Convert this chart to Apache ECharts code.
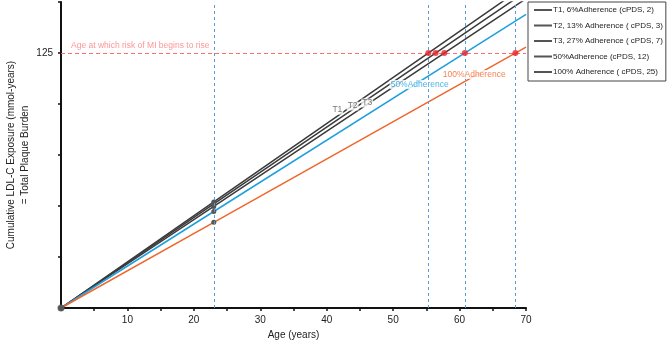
<!DOCTYPE html>
<html>
<head>
<meta charset="utf-8">
<script src="https://cdn.jsdelivr.net/npm/echarts@6/dist/echarts.min.js"></script>
<style>
  html, body { margin: 0; padding: 0; background: #fff; }
  #chart { width: 669px; height: 343px; }
</style>
</head>
<body>
<div id="chart"></div>
<script>
const seriesNames = [
    'T1, 6%Adherence (cPDS, 2)',
    'T2, 13% Adherence ( cPDS, 3)',
    'T3, 27% Adherence ( cPDS, 7)',
    '50%Adherence (cPDS, 12)',
    '100% Adherence ( cPDS, 25)'
];
const seriesColors = ['#3a3a3a', '#3a3a3a', '#3a3a3a', '#1ea0dc', '#f0652b'];

// cumulative exposure read at age 0, 23 and 70
const ages = [0, 23, 70];
const t1Values = [0, 52.0, 158.2];
const t2Values = [0, 51.0, 155.1];
const t3Values = [0, 49.8, 151.6];
const halfValues = [0, 47.3, 143.9];
const fullValues = [0, 42.0, 127.9];
const allValues = [t1Values, t2Values, t3Values, halfValues, fullValues];

// age where each line reaches the threshold
const threshold = 125;
const thresholdAges = [55.3, 56.4, 57.7, 60.8, 68.4];
const guideAges = [23, 55.3, 60.8, 68.4];

// in-plot labels [age, value, text, color]
const lineLabels = [
    [41.6, 97, 'T1', '#555'],
    [43.9, 99, 'T2', '#555'],
    [46.1, 100.5, 'T3', '#555'],
    [54.0, 109.5, '50%Adherence', '#1ea0dc'],
    [62.2, 114.5, '100%Adherence', '#f0652b']
];

const font = "'Liberation Sans', Arial, sans-serif";

const lineSeries = seriesNames.map(function (name, i) {
    const data = ages.map(function (a, j) {
        const item = { value: [a, allValues[i][j]] };
        if (j === 2) {
            item.symbol = 'none';
        }
        return item;
    });
    return {
        name: name,
        type: 'line',
        data: data,
        symbol: 'circle',
        symbolSize: 5,
        showSymbol: true,
        color: seriesColors[i],
        itemStyle: { color: '#555' },
        lineStyle: { color: seriesColors[i], width: 1.5 },
        z: 3,
        animation: false
    };
});

// guide lines on the first series
lineSeries[0].markLine = {
    silent: true,
    symbol: 'none',
    animation: false,
    data: guideAges.map(function (a) {
        return {
            xAxis: a,
            lineStyle: { color: '#5b9bd5', type: [3, 3], width: 1 },
            label: { show: false }
        };
    }).concat([{
        yAxis: threshold,
        lineStyle: { color: '#ff5c5c', type: [4, 3], width: 1, opacity: 0.9 },
        label: {
            show: true,
            position: 'insideStartTop',
            formatter: 'Age at which risk of MI begins to rise',
            color: '#ff8a8a',
            fontSize: 8.5,
            fontFamily: font,
            distance: [10, 3]
        }
    }])
};

const option = {
    animation: false,
    grid: { left: 61, right: 143, top: 2, bottom: 35, outerBoundsMode: 'none', containLabel: false },
    legend: {
        data: seriesNames,
        orient: 'vertical',
        left: 528,
        top: 2,
        padding: [4, 3, 5, 6],
        itemGap: 7.5,
        itemWidth: 18,
        itemHeight: 2,
        icon: 'rect',
        borderColor: '#444',
        borderWidth: 1,
        textStyle: { fontSize: 8, color: '#222', fontFamily: font, padding: [0, 0, 0, -4] }
    },
    xAxis: {
        type: 'value',
        min: 0,
        max: 70,
        interval: 5,
        name: 'Age (years)',
        nameLocation: 'middle',
        nameGap: 22,
        nameMoveOverlap: false,
        nameTextStyle: { fontSize: 10, color: '#222', fontFamily: font },
        axisLine: { lineStyle: { color: '#111', width: 2 } },
        axisTick: { length: 3, lineStyle: { color: '#111', width: 1.5 } },
        axisLabel: {
            fontSize: 10, color: '#222', fontFamily: font, margin: 7,
            formatter: function (v) { return (v > 0 && v % 10 === 0) ? String(v) : ''; }
        },
        splitLine: { show: false }
    },
    yAxis: {
        type: 'value',
        min: 0,
        max: 150,
        interval: 25,
        name: 'Cumulative LDL-C Exposure (mmol-years)\n= Total Plaque Burden',
        nameLocation: 'middle',
        nameGap: 29,
        nameMoveOverlap: false,
        nameTextStyle: { fontSize: 10, color: '#222', fontFamily: font, lineHeight: 14 },
        axisLine: { lineStyle: { color: '#111', width: 2 } },
        axisTick: { length: 3, lineStyle: { color: '#111', width: 1.5 } },
        axisLabel: {
            fontSize: 10, color: '#222', fontFamily: font, margin: 8,
            formatter: function (v) { return v === threshold ? String(v) : ''; }
        },
        splitLine: { show: false }
    },
    series: lineSeries.concat([
        {
            name: 'threshold',
            type: 'scatter',
            data: thresholdAges.map(function (a) { return [a, threshold]; }),
            symbolSize: 6,
            itemStyle: { color: '#e8262c' },
            z: 6,
            animation: false
        },
        {
            name: 'origin',
            type: 'scatter',
            data: [[0, 0]],
            symbolSize: 7,
            itemStyle: { color: '#555' },
            z: 6,
            clip: false,
            animation: false
        },
        {
            name: 'labels',
            type: 'scatter',
            data: lineLabels.map(function (l) {
                return {
                    value: [l[0], l[1]],
                    name: l[2],
                    label: { color: l[3] }
                };
            }),
            symbolSize: 0,
            z: 8,
            silent: true,
            label: {
                show: true,
                position: 'inside',
                formatter: '{b}',
                fontSize: 8.5,
                fontFamily: font,
                backgroundColor: '#fff',
                padding: [0, 1]
            },
            animation: false
        }
    ])
};

const chart = echarts.init(document.getElementById('chart'));
chart.setOption(option);
</script>
</body>
</html>
